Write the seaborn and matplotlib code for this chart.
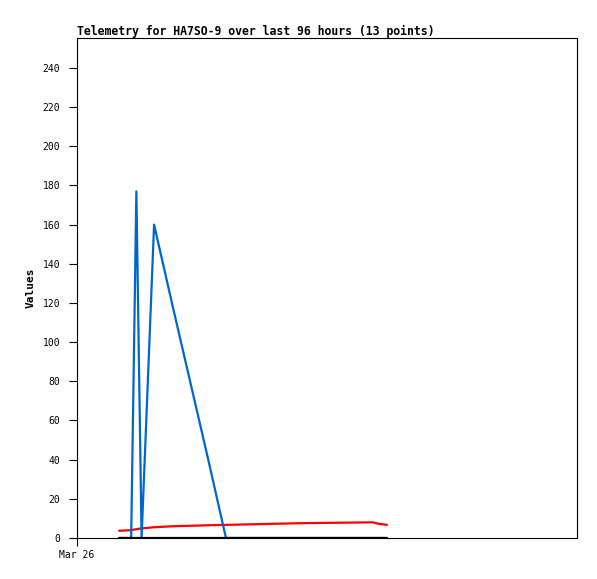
import matplotlib
matplotlib.use('Agg')
import matplotlib.pyplot as plt
import seaborn as sns

# telemetry samples (hours since Mar 26 00:00)
hours = [8.1, 10.4, 11.4, 12.4, 14.8, 18.4, 25.2, 28.6, 33.6, 43.6, 56.8, 57.8, 59.5]
blue_vals = [0, 0, 177, 0, 160, 118, 40, 0, 0, 0, 0, 0, 0]
red_vals = [3.7, 4.0, 4.5, 4.9, 5.5, 6.0, 6.5, 6.7, 7.0, 7.6, 8.0, 7.3, 6.7]
black_vals = [0, 0, 0, 0, 0, 0, 0, 0, 0, 0, 0, 0, 0]

y_ticks = list(range(0, 241, 20))
x_tick_labels = ['Mar 26']

sns.set_style('ticks')
plt.rcParams['font.family'] = ['DejaVu Sans Mono']
plt.rcParams['text.color'] = 'black'
plt.rcParams['axes.labelcolor'] = 'black'

fig = plt.figure(figsize=(5.97, 5.79), dpi=100, facecolor='white')
ax = fig.add_axes([77/597, 41/579, 500/597, 500/579])

# draw the three series
sns.lineplot(x=hours, y=red_vals, ax=ax, color='#ff0000', linewidth=1.6,
             estimator=None, sort=False, zorder=2)
sns.lineplot(x=hours, y=blue_vals, ax=ax, color='#0066cc', linewidth=1.6,
             estimator=None, sort=False, zorder=3)
sns.lineplot(x=hours, y=black_vals, ax=ax, color='black', linewidth=1.6,
             estimator=None, sort=False, zorder=4)

ax.set_xlim(0, 96)
ax.set_ylim(0, 255.3)
ax.set_yticks(y_ticks)
ax.set_xticks([0])
ax.set_xticklabels(x_tick_labels)

for s in ax.spines.values():
    s.set_visible(True)
    s.set_linewidth(0.8)
    s.set_color('black')

ax.tick_params(axis='both', direction='out', length=6, width=0.8, colors='black',
               labelsize=7)
ax.tick_params(axis='y', pad=6)
ax.tick_params(axis='x', pad=3)

ax.set_ylabel('Values', fontsize=8, fontweight='bold', labelpad=5)
ax.set_xlabel('')
ax.set_title('Telemetry for HA7SO-9 over last 96 hours (13 points)', loc='left',
             fontsize=8.3, fontweight='bold', pad=2, color='black')

plt.savefig('out.png', dpi=100, facecolor='white')
